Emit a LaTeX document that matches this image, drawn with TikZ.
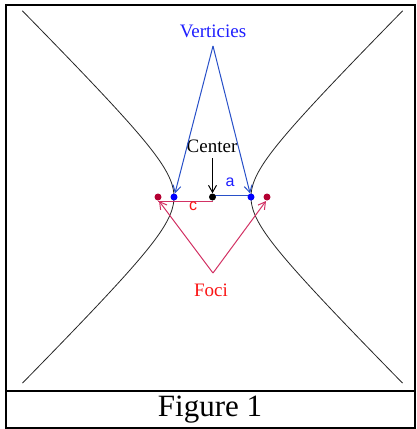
\documentclass[tikz,border=0pt]{standalone}
\usepackage{fontspec}
\setmainfont{Liberation Serif}
\newfontfamily\lsans{Liberation Sans}
\usetikzlibrary{arrows.meta}
\definecolor{vblue}{RGB}{40,80,200}
\definecolor{tblue}{RGB}{30,30,255}
\definecolor{fred}{RGB}{210,50,100}
\definecolor{tred}{RGB}{250,20,20}
\definecolor{dred}{RGB}{180,0,50}
\tikzset{
  frame/.style={line width=2pt,black},
  dot/.style={circle,inner sep=0pt,minimum size=7pt},
  lab/.style={inner sep=0pt,font=\fontsize{19}{21}\selectfont},
  barb/.style={-{Straight Barb[length=7pt,width=8pt]}},
}
\begin{document}
\begin{tikzpicture}[x=1pt,y=-1pt]
\useasboundingbox (0,0) rectangle (416,429);
% frame
\draw[frame] (6,5) -- (415,5) -- (415,428) -- (6,428) -- cycle;
\draw[frame] (6,391) -- (415,391);
\node[inner sep=0pt,font=\fontsize{31}{33}\selectfont] (fig) at (210,410) {Figure 1};
% hyperbola
\draw[line width=0.8pt,black!85,domain=-2.28:2.28,samples=80,smooth] plot ({212.5+38.5*cosh(\x)},{197+38.5*sinh(\x)});
\draw[line width=0.8pt,black!85,domain=-2.28:2.28,samples=80,smooth] plot ({212.5-38.5*cosh(\x)},{197+38.5*sinh(\x)});
% points
\coordinate (apexV) at (213,46);
\coordinate (apexF) at (213,273);
\coordinate (ctop) at (212.5,158);
% segments
\draw[fred,line width=1pt] (158,201) -- (212.5,201);
\draw[vblue,line width=1pt] (212.5,195) -- (251,195);
\node[dot,fill=blue] (vL) at (174,197) {};
\node[dot,fill=blue] (vR) at (251,197) {};
\node[dot,fill=dred] (fL) at (158,197) {};
\node[dot,fill=dred] (fR) at (267,197) {};
\node[dot,fill=black] (ctr) at (212.5,197) {};
% labels
\node[lab,text=tblue] (vert) at (213,31) {Verticies};
\node[lab,text=black] (cent) at (212,146) {Center};
\node[lab,text=tred] (foci) at (211,290) {Foci};
\node[inner sep=0pt,text=tblue,font=\lsans\fontsize{16}{16}\selectfont] (la) at (230,182) {a};
\node[inner sep=0pt,text=tred,font=\lsans\fontsize{16}{16}\selectfont] (lc) at (193,206) {c};
% connectors
\draw[barb,vblue,line width=1pt] (apexV) -- (vL);
\draw[barb,vblue,line width=1pt] (apexV) -- (vR);
\draw[barb,black,line width=1pt] (ctop) -- (ctr);
\draw[barb,fred,line width=1pt] (apexF) -- ([shift={(1,4)}]fL.center);
\draw[barb,fred,line width=1pt] (apexF) -- ([shift={(-1,4)}]fR.center);
\end{tikzpicture}
\end{document}
